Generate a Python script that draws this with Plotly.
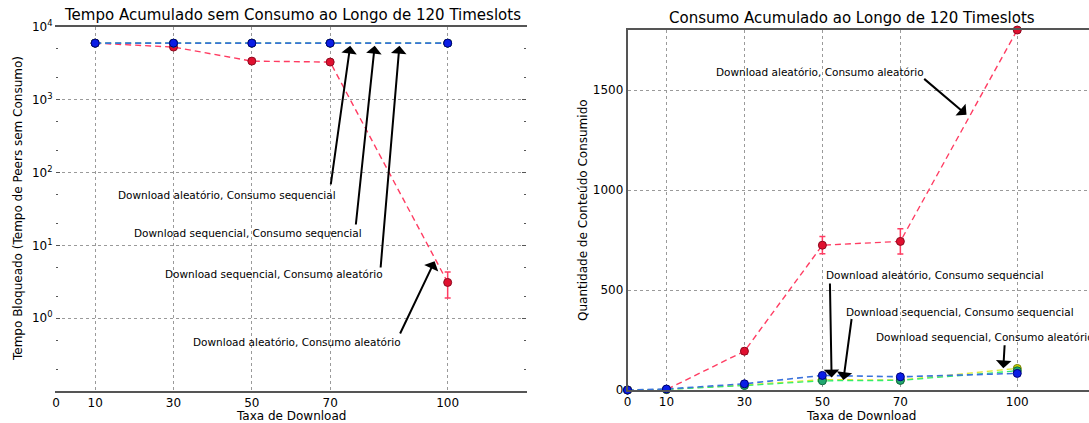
import plotly.graph_objects as go

W, H = 1089, 423

# ---------------- data ----------------
taxa_log = [10, 30, 50, 70, 100]          # left chart (log y, no 0)
taxa = [0, 10, 30, 50, 70, 100]          # right chart

# Left: Tempo Bloqueado (log)
bloq_da_ca = [6000, 5300, 3400, 3300, 3.1]
bloq_da_ca_err = [0, 0, 0, 0, 1.2]
bloq_ds_ca = [6000, 6000, 6000, 6000, 6000]
bloq_ds_cs = [6000, 6000, 6000, 6000, 6000]
bloq_da_cs = [6000, 6000, 6000, 6000, 6000]

# Right: Consumo acumulado
cons_da_ca = [0, 2, 194, 724, 743, 1800]
cons_da_ca_err = [0, 1, 15, 43, 63, 0]
cons_ds_ca = [0, 3, 25, 52, 50, 108]
cons_ds_cs = [0, 3, 22, 46, 48, 96]
cons_da_cs = [0, 5, 31, 73, 66, 83]

x_ticks = [0, 10, 30, 50, 70, 100]
log_tickvals = [1, 10, 100, 1000, 10000]
log_ticktext = ["10<sup>0</sup>", "10<sup>1</sup>", "10<sup>2</sup>", "10<sup>3</sup>", "10<sup>4</sup>"]
lin_tickvals = [0, 500, 1000, 1500]

title_left = "Tempo Acumulado sem Consumo ao Longo de 120 Timeslots"
title_right = "Consumo Acumulado ao Longo de 120 Timeslots"
ylabel_left = "Tempo Bloqueado (Tempo de Peers sem Consumo)"
ylabel_right = "Quantidade de Conteúdo Consumido"
xlabel = "Taxa de Download"

lab_da_ca = "Download aleatório, Consumo aleatório"
lab_da_cs = "Download aleatório, Consumo sequencial"
lab_ds_cs = "Download sequencial, Consumo sequencial"
lab_ds_ca = "Download sequencial, Consumo aleatório"

# styles: (line color, marker fill, marker edge, line width)
sty = {
    "da_ca": ("#ff3c62", "#e0102f", "#8b0a1f", 1.4),
    "ds_ca": ("#dde82a", "#c8d400", "#7a8200", 1.3),
    "ds_cs": ("#35ee6a", "#22a870", "#0e6a40", 1.3),
    "da_cs": ("#3a72dc", "#0a1ee6", "#00007a", 1.6),
}

FONT = "DejaVu Sans"


def px(xp):
    return xp / W


def py(yp):
    return 1 - yp / H


fig = go.Figure()


def add_series(x, y, key, name, xa, ya, err=None):
    lc, mf, me, lw = sty[key]
    kw = {}
    if err is not None:
        kw["error_y"] = dict(type="data", array=err, visible=True, color=lc,
                             thickness=1.5, width=3)
    fig.add_trace(go.Scatter(
        x=x, y=y, mode="lines+markers", name=name, xaxis=xa, yaxis=ya,
        line=dict(color=lc, width=lw, dash="6px,4px"),
        marker=dict(size=8, color=mf, line=dict(color=me, width=1)),
        cliponaxis=False, showlegend=False, **kw))


# left
add_series(taxa_log, bloq_da_ca, "da_ca", lab_da_ca, "x", "y", bloq_da_ca_err)
add_series(taxa_log, bloq_ds_ca, "ds_ca", lab_ds_ca, "x", "y")
add_series(taxa_log, bloq_ds_cs, "ds_cs", lab_ds_cs, "x", "y")
add_series(taxa_log, bloq_da_cs, "da_cs", lab_da_cs, "x", "y")
# right
add_series(taxa, cons_da_ca, "da_ca", lab_da_ca, "x2", "y2", cons_da_ca_err)
add_series(taxa, cons_ds_ca, "ds_ca", lab_ds_ca, "x2", "y2")
add_series(taxa, cons_ds_cs, "ds_cs", lab_ds_cs, "x2", "y2")
add_series(taxa, cons_da_cs, "da_cs", lab_da_cs, "x2", "y2")

tickfont = dict(family=FONT, size=12, color="black")
grid = dict(showgrid=True, gridcolor="#9a9a9a", griddash="dot", gridwidth=1)
SPINE = "#555555"

fig.update_layout(
    width=W, height=H,
    margin=dict(l=0, r=0, t=0, b=0),
    paper_bgcolor="white", plot_bgcolor="white",
    font=dict(family=FONT, color="black"),
    xaxis=dict(domain=[px(56), px(526)], range=[0, 120], tickvals=x_ticks,
               tickfont=tickfont, showline=True, mirror=True, linecolor=SPINE,
               linewidth=1.5, ticks="", zeroline=False, automargin=False,
               ticklabelstandoff=0, anchor="y", **grid),
    yaxis=dict(domain=[py(391), py(27)], type="log", range=[-1, 4],
               tickvals=log_tickvals, ticktext=log_ticktext, tickfont=tickfont,
               showline=True, linecolor="rgba(0,0,0,0)", mirror="ticks",
               ticks="inside", ticklen=4, tickcolor=SPINE,
               minor=dict(ticks="inside", ticklen=2, tickcolor=SPINE, showgrid=False),
               zeroline=False, automargin=False, anchor="x", **grid),
    xaxis2=dict(domain=[px(627.5), 1.0], range=[0, 118.4], tickvals=x_ticks,
                tickfont=tickfont, showline=True, mirror=True, linecolor=SPINE,
                linewidth=1.5, ticks="", zeroline=False, automargin=False,
                ticklabelstandoff=0, anchor="y2", **grid),
    yaxis2=dict(domain=[py(390), py(30)], range=[0, 1800], tickvals=lin_tickvals,
                tickfont=tickfont, showline=True, linecolor=SPINE, linewidth=1.5,
                ticks="", zeroline=False, automargin=False, anchor="x2", **grid),
)

ann = []


def text(t, xc, yc, size=10.5, xanchor="center", angle=0):
    ann.append(dict(text=t, x=px(xc), y=py(yc), xref="paper", yref="paper",
                    showarrow=False, xanchor=xanchor, yanchor="middle",
                    textangle=angle, font=dict(family=FONT, size=size, color="black")))


def arrow(tail, tip):
    ann.append(dict(text="", x=px(tip[0]), y=py(tip[1]), xref="paper", yref="paper",
                    ax=tail[0] - tip[0], ay=tail[1] - tip[1], axref="pixel", ayref="pixel",
                    showarrow=True, arrowhead=1, arrowsize=1.3, arrowwidth=2,
                    arrowcolor="black", standoff=0, startstandoff=0))


# titles / axis labels
text(title_left, 292, 15.5, size=15)
text(title_right, 852, 18, size=15)
text(xlabel, 291, 416, size=12)
text(xlabel, 861, 416, size=12)
text(ylabel_left, 18, 209, size=12, angle=-90)
text(ylabel_right, 583, 210, size=12, angle=-90)

# left annotations
text(lab_da_cs, 227, 195)
text(lab_ds_cs, 247.6, 233)
text(lab_ds_ca, 273.8, 273.6)
text(lab_da_ca, 296.7, 342)
arrow((330.6, 185.8), (350.2, 45.8))
arrow((355.7, 226), (374.7, 45.8))
arrow((380.5, 269), (399.4, 45.8))
arrow((399.4, 335), (434.6, 261.2))

# right annotations
text(lab_da_ca, 819.5, 72.5)
text(lab_da_cs, 934.8, 275.3)
text(lab_ds_cs, 959.5, 312.4)
text(lab_ds_ca, 873.8, 337, xanchor="left")
arrow((922.7, 77.6), (966.5, 114.7))
arrow((829.9, 282), (831.6, 377.5))
arrow((851.8, 317.5), (843.4, 379.9))
arrow((1004.7, 343.8), (1003.3, 368.3))

fig.update_layout(annotations=ann)

fig.write_html(
    "out.html",
    config={"displayModeBar": False},
    post_script="document.body.style.margin='0';document.body.style.padding='0';"
                "document.body.style.overflow='hidden';",
)
